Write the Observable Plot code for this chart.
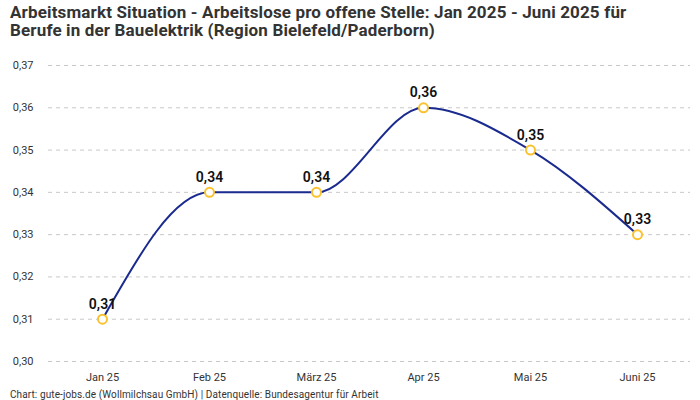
<!DOCTYPE html>
<html><head><meta charset="utf-8">
<script src="https://cdn.jsdelivr.net/npm/d3@7"></script>
<script src="https://cdn.jsdelivr.net/npm/@observablehq/plot@0.6"></script>
<style>
body{margin:0;background:#fff;font-family:Roboto,"Noto Sans",sans-serif;}
#title{font-weight:700;font-size:17px;line-height:18px;color:#333;padding:3px 10px 0 10px;height:37px;letter-spacing:0.15px;white-space:nowrap;}
#caption{font-size:10px;color:#333;padding:3px 10px 0 10px;line-height:12px;letter-spacing:0.1px;}
</style></head><body>
<div id="title">Arbeitsmarkt Situation - Arbeitslose pro offene Stelle: Jan 2025 - Juni 2025 für<br>Berufe in der Bauelektrik (Region Bielefeld/Paderborn)</div>
<div id="chart"></div>
<div id="caption">Chart: gute-jobs.de (Wollmilchsau GmbH) | Datenquelle: Bundesagentur für Arbeit</div>
<script>
const months = ["Jan 25","Feb 25","März 25","Apr 25","Mai 25","Juni 25"];
const values = [0.31,0.34,0.34,0.36,0.35,0.33];
const yTicks = [0.30,0.31,0.32,0.33,0.34,0.35,0.36,0.37];
const data = months.map((m,i)=>({month:m,value:values[i]}));
const fmt = v => d3.format(".2f")(v).replace(".",",");
const chart = Plot.plot({
  width:700, height:346,
  marginLeft:48, marginRight:10, marginTop:25, marginBottom:25,
  style:{fontFamily:"Roboto, 'Noto Sans', sans-serif", fontSize:"11px", color:"#333"},
  x:{type:"point", domain:months, padding:0.5, label:null},
  y:{domain:[0.30,0.37], label:null},
  marks:[
    Plot.gridY(yTicks,{stroke:"#c8c8c8",strokeOpacity:1,strokeDasharray:"4,4"}),
    Plot.axisY(yTicks,{tickSize:0,tickPadding:15,tickFormat:fmt,label:null,fontSize:11}),
    Plot.axisX({tickSize:0,tickPadding:12,label:null,fontSize:11}),
    Plot.line(data,{x:"month",y:"value",curve:"monotone-x",stroke:"#1a2a8e",strokeWidth:2}),
    Plot.dot(data,{x:"month",y:"value",r:4.5,fill:"#fff",stroke:"#f9c22e",strokeWidth:2}),
    Plot.text(data,{x:"month",y:"value",text:d=>fmt(d.value),dy:-15,fontWeight:600,fontSize:14,fill:"#111"})
  ]
});
document.getElementById("chart").appendChild(chart);
</script>
</body></html>
